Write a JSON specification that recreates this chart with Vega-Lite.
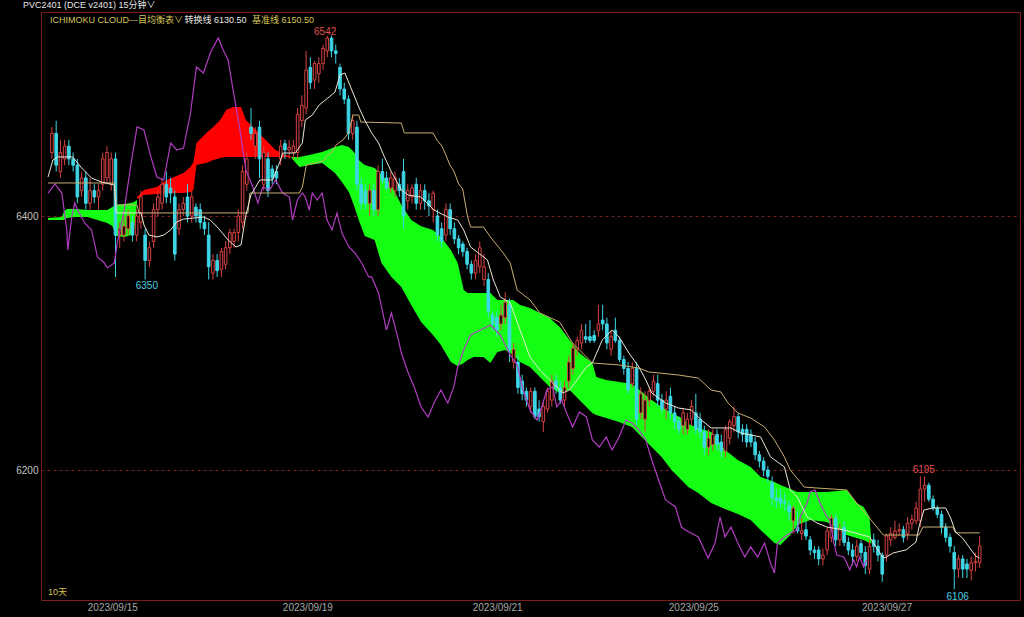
{
  "$schema": "https://vega.github.io/schema/vega-lite/v6.json",
  "width": 979,
  "height": 588,
  "autosize": {"type": "none"},
  "padding": {"left": 41, "top": 12, "right": 4, "bottom": 17},
  "background": "#000000",
  "view": {"stroke": "#7c1c1c", "strokeWidth": 1, "fill": "#000000"},
  "title": {"text": "PVC2401 (DCE v2401)  15分钟∨", "anchor": "start", "frame": "group", "dx": -18, "offset": 2, "color": "#e6e6e6", "fontSize": 9, "fontWeight": "normal", "font": "Liberation Sans, Noto Sans CJK SC, sans-serif"},
  "datasets": {
    "candles": [
      {"i":0,"o":6450,"h":6470,"l":6445,"c":6465},{"i":1,"o":6465,"h":6475,"l":6435,"c":6440},{"i":2,"o":6435,"h":6460,"l":6430,"c":6450},{"i":3,"o":6445,"h":6460,"l":6440,"c":6455},{"i":4,"o":6455,"h":6460,"l":6440,"c":6445},
      {"i":5,"o":6445,"h":6450,"l":6435,"c":6440},{"i":6,"o":6440,"h":6445,"l":6410,"c":6415},{"i":7,"o":6420,"h":6435,"l":6415,"c":6430},{"i":8,"o":6430,"h":6435,"l":6405,"c":6410},{"i":9,"o":6410,"h":6430,"l":6405,"c":6420},
      {"i":10,"o":6420,"h":6425,"l":6410,"c":6415},{"i":11,"o":6415,"h":6425,"l":6405,"c":6420},{"i":12,"o":6425,"h":6450,"l":6420,"c":6445},{"i":13,"o":6430,"h":6455,"l":6425,"c":6450},{"i":14,"o":6425,"h":6450,"l":6420,"c":6445},
      {"i":15,"o":6445,"h":6450,"l":6352,"c":6385},{"i":16,"o":6385,"h":6395,"l":6375,"c":6390},{"i":17,"o":6385,"h":6400,"l":6380,"c":6392},{"i":18,"o":6390,"h":6405,"l":6385,"c":6400},{"i":19,"o":6395,"h":6400,"l":6380,"c":6385},
      {"i":20,"o":6385,"h":6405,"l":6380,"c":6400},{"i":21,"o":6395,"h":6420,"l":6390,"c":6415},{"i":22,"o":6385,"h":6390,"l":6350,"c":6365},{"i":23,"o":6365,"h":6380,"l":6360,"c":6375},{"i":24,"o":6380,"h":6410,"l":6375,"c":6405},
      {"i":25,"o":6405,"h":6420,"l":6400,"c":6415},{"i":26,"o":6410,"h":6430,"l":6405,"c":6425},{"i":27,"o":6425,"h":6435,"l":6410,"c":6415},{"i":28,"o":6422,"h":6430,"l":6410,"c":6418},{"i":29,"o":6415,"h":6420,"l":6365,"c":6370},
      {"i":30,"o":6390,"h":6410,"l":6385,"c":6405},{"i":31,"o":6405,"h":6415,"l":6400,"c":6410},{"i":32,"o":6415,"h":6425,"l":6395,"c":6400},{"i":33,"o":6400,"h":6420,"l":6395,"c":6415},{"i":34,"o":6407,"h":6410,"l":6395,"c":6400},
      {"i":35,"o":6405,"h":6410,"l":6390,"c":6395},{"i":36,"o":6395,"h":6400,"l":6385,"c":6390},{"i":37,"o":6385,"h":6395,"l":6350,"c":6360},{"i":38,"o":6355,"h":6370,"l":6350,"c":6365},{"i":39,"o":6365,"h":6370,"l":6352,"c":6357},
      {"i":40,"o":6358,"h":6375,"l":6352,"c":6372},{"i":41,"o":6362,"h":6380,"l":6358,"c":6375},{"i":42,"o":6375,"h":6390,"l":6370,"c":6387},{"i":43,"o":6380,"h":6390,"l":6375,"c":6387},{"i":44,"o":6387,"h":6405,"l":6380,"c":6400},
      {"i":45,"o":6395,"h":6440,"l":6390,"c":6435},{"i":46,"o":6425,"h":6450,"l":6420,"c":6445},{"i":47,"o":6470,"h":6485,"l":6460,"c":6465},{"i":48,"o":6455,"h":6470,"l":6445,"c":6465},{"i":49,"o":6470,"h":6475,"l":6430,"c":6445},
      {"i":50,"o":6425,"h":6455,"l":6420,"c":6450},{"i":51,"o":6445,"h":6450,"l":6415,"c":6420},{"i":52,"o":6437,"h":6440,"l":6425,"c":6430},{"i":53,"o":6435,"h":6440,"l":6425,"c":6430},{"i":54,"o":6445,"h":6460,"l":6440,"c":6455},
      {"i":55,"o":6457,"h":6460,"l":6445,"c":6452},{"i":56,"o":6452,"h":6460,"l":6445,"c":6454},{"i":57,"o":6450,"h":6460,"l":6445,"c":6455},{"i":58,"o":6450,"h":6485,"l":6445,"c":6480},{"i":59,"o":6475,"h":6495,"l":6470,"c":6487},
      {"i":60,"o":6485,"h":6530,"l":6480,"c":6515},{"i":61,"o":6517,"h":6525,"l":6500,"c":6505},{"i":62,"o":6507,"h":6522,"l":6500,"c":6520},{"i":63,"o":6512,"h":6525,"l":6505,"c":6520},{"i":64,"o":6520,"h":6535,"l":6515,"c":6532},
      {"i":65,"o":6530,"h":6542,"l":6525,"c":6540},{"i":66,"o":6540,"h":6542,"l":6525,"c":6530},{"i":67,"o":6530,"h":6535,"l":6520,"c":6528},{"i":68,"o":6517,"h":6520,"l":6495,"c":6500},{"i":69,"o":6500,"h":6505,"l":6488,"c":6492},
      {"i":70,"o":6492,"h":6495,"l":6460,"c":6465},{"i":71,"o":6465,"h":6480,"l":6460,"c":6475},{"i":72,"o":6470,"h":6475,"l":6420,"c":6425},{"i":73,"o":6425,"h":6430,"l":6405,"c":6410},{"i":74,"o":6420,"h":6425,"l":6405,"c":6410},
      {"i":75,"o":6410,"h":6425,"l":6400,"c":6420},{"i":76,"o":6420,"h":6425,"l":6400,"c":6405},{"i":77,"o":6405,"h":6440,"l":6400,"c":6435},{"i":78,"o":6435,"h":6445,"l":6425,"c":6428},{"i":79,"o":6430,"h":6435,"l":6420,"c":6422},
      {"i":80,"o":6422,"h":6435,"l":6418,"c":6430},{"i":81,"o":6420,"h":6435,"l":6415,"c":6430},{"i":82,"o":6425,"h":6430,"l":6415,"c":6420},{"i":83,"o":6435,"h":6445,"l":6390,"c":6400},{"i":84,"o":6412,"h":6425,"l":6405,"c":6420},
      {"i":85,"o":6415,"h":6425,"l":6410,"c":6422},{"i":86,"o":6425,"h":6430,"l":6405,"c":6410},{"i":87,"o":6410,"h":6425,"l":6405,"c":6420},{"i":88,"o":6420,"h":6425,"l":6405,"c":6412},{"i":89,"o":6412,"h":6418,"l":6400,"c":6408},
      {"i":90,"o":6405,"h":6420,"l":6395,"c":6418},{"i":91,"o":6400,"h":6405,"l":6380,"c":6385},{"i":92,"o":6390,"h":6395,"l":6375,"c":6380},{"i":93,"o":6385,"h":6410,"l":6380,"c":6405},{"i":94,"o":6405,"h":6410,"l":6385,"c":6390},
      {"i":95,"o":6390,"h":6395,"l":6378,"c":6382},{"i":96,"o":6382,"h":6385,"l":6370,"c":6375},{"i":97,"o":6378,"h":6380,"l":6368,"c":6372},{"i":98,"o":6372,"h":6375,"l":6358,"c":6362},{"i":99,"o":6362,"h":6365,"l":6350,"c":6355},
      {"i":100,"o":6355,"h":6370,"l":6350,"c":6365},{"i":101,"o":6360,"h":6380,"l":6355,"c":6375},{"i":102,"o":6350,"h":6370,"l":6345,"c":6360},{"i":103,"o":6350,"h":6355,"l":6320,"c":6325},{"i":104,"o":6322,"h":6325,"l":6310,"c":6315},
      {"i":105,"o":6320,"h":6325,"l":6305,"c":6310},{"i":106,"o":6315,"h":6330,"l":6310,"c":6322},{"i":107,"o":6320,"h":6340,"l":6315,"c":6332},{"i":108,"o":6330,"h":6335,"l":6285,"c":6295},{"i":109,"o":6285,"h":6300,"l":6280,"c":6295},
      {"i":110,"o":6285,"h":6290,"l":6260,"c":6265},{"i":111,"o":6270,"h":6275,"l":6255,"c":6260},{"i":112,"o":6262,"h":6265,"l":6250,"c":6255},{"i":113,"o":6250,"h":6265,"l":6245,"c":6262},{"i":114,"o":6262,"h":6265,"l":6240,"c":6242},
      {"i":115,"o":6248,"h":6255,"l":6238,"c":6242},{"i":116,"o":6238,"h":6255,"l":6230,"c":6250},{"i":117,"o":6248,"h":6265,"l":6245,"c":6262},{"i":118,"o":6255,"h":6275,"l":6250,"c":6270},{"i":119,"o":6270,"h":6275,"l":6260,"c":6265},
      {"i":120,"o":6265,"h":6270,"l":6252,"c":6255},{"i":121,"o":6255,"h":6270,"l":6250,"c":6265},{"i":122,"o":6270,"h":6290,"l":6265,"c":6285},{"i":123,"o":6280,"h":6300,"l":6275,"c":6296},{"i":124,"o":6295,"h":6305,"l":6290,"c":6302},
      {"i":125,"o":6300,"h":6315,"l":6295,"c":6310},{"i":126,"o":6305,"h":6315,"l":6300,"c":6303},{"i":127,"o":6305,"h":6318,"l":6300,"c":6302},{"i":128,"o":6306,"h":6310,"l":6300,"c":6302},{"i":129,"o":6310,"h":6330,"l":6305,"c":6315},
      {"i":130,"o":6318,"h":6330,"l":6310,"c":6315},{"i":131,"o":6315,"h":6320,"l":6295,"c":6300},{"i":132,"o":6295,"h":6310,"l":6290,"c":6305},{"i":133,"o":6310,"h":6320,"l":6300,"c":6302},{"i":134,"o":6302,"h":6305,"l":6285,"c":6287},
      {"i":135,"o":6287,"h":6290,"l":6275,"c":6280},{"i":136,"o":6280,"h":6285,"l":6260,"c":6263},{"i":137,"o":6268,"h":6285,"l":6265,"c":6280},{"i":138,"o":6280,"h":6285,"l":6235,"c":6240},{"i":139,"o":6245,"h":6265,"l":6240,"c":6260},
      {"i":140,"o":6240,"h":6262,"l":6230,"c":6255},{"i":141,"o":6255,"h":6265,"l":6250,"c":6262},{"i":142,"o":6262,"h":6275,"l":6258,"c":6270},{"i":143,"o":6268,"h":6275,"l":6250,"c":6255},{"i":144,"o":6255,"h":6260,"l":6245,"c":6248},
      {"i":145,"o":6248,"h":6262,"l":6240,"c":6255},{"i":146,"o":6258,"h":6265,"l":6240,"c":6245},{"i":147,"o":6245,"h":6250,"l":6232,"c":6238},{"i":148,"o":6238,"h":6242,"l":6228,"c":6232},{"i":149,"o":6235,"h":6248,"l":6228,"c":6245},
      {"i":150,"o":6232,"h":6245,"l":6228,"c":6240},{"i":151,"o":6240,"h":6255,"l":6235,"c":6250},{"i":152,"o":6245,"h":6260,"l":6228,"c":6232},{"i":153,"o":6240,"h":6245,"l":6225,"c":6230},{"i":154,"o":6230,"h":6235,"l":6212,"c":6218},
      {"i":155,"o":6218,"h":6232,"l":6212,"c":6225},{"i":156,"o":6220,"h":6232,"l":6215,"c":6228},{"i":157,"o":6228,"h":6232,"l":6215,"c":6220},{"i":158,"o":6222,"h":6228,"l":6210,"c":6215},{"i":159,"o":6215,"h":6235,"l":6210,"c":6232},
      {"i":160,"o":6225,"h":6240,"l":6220,"c":6238},{"i":161,"o":6235,"h":6250,"l":6230,"c":6242},{"i":162,"o":6242,"h":6245,"l":6225,"c":6230},{"i":163,"o":6232,"h":6236,"l":6222,"c":6228},{"i":164,"o":6232,"h":6236,"l":6218,"c":6222},
      {"i":165,"o":6228,"h":6232,"l":6218,"c":6222},{"i":166,"o":6222,"h":6226,"l":6208,"c":6212},{"i":167,"o":6212,"h":6215,"l":6202,"c":6207},{"i":168,"o":6207,"h":6210,"l":6195,"c":6200},{"i":169,"o":6200,"h":6203,"l":6190,"c":6195},
      {"i":170,"o":6190,"h":6195,"l":6172,"c":6178},{"i":171,"o":6178,"h":6185,"l":6170,"c":6176},{"i":172,"o":6178,"h":6185,"l":6170,"c":6174},{"i":173,"o":6175,"h":6182,"l":6168,"c":6174},{"i":174,"o":6172,"h":6176,"l":6160,"c":6167},
      {"i":175,"o":6160,"h":6172,"l":6150,"c":6170},{"i":176,"o":6155,"h":6168,"l":6150,"c":6152},{"i":177,"o":6150,"h":6162,"l":6145,"c":6152},{"i":178,"o":6153,"h":6160,"l":6145,"c":6148},{"i":179,"o":6145,"h":6148,"l":6133,"c":6137},
      {"i":180,"o":6137,"h":6140,"l":6130,"c":6135},{"i":181,"o":6137,"h":6140,"l":6125,"c":6130},{"i":182,"o":6130,"h":6138,"l":6125,"c":6133},{"i":183,"o":6137,"h":6155,"l":6133,"c":6152},{"i":184,"o":6147,"h":6165,"l":6143,"c":6162},
      {"i":185,"o":6162,"h":6165,"l":6140,"c":6145},{"i":186,"o":6145,"h":6158,"l":6140,"c":6153},{"i":187,"o":6155,"h":6160,"l":6140,"c":6143},{"i":188,"o":6143,"h":6147,"l":6133,"c":6137},{"i":189,"o":6137,"h":6142,"l":6125,"c":6132},
      {"i":190,"o":6132,"h":6145,"l":6128,"c":6140},{"i":191,"o":6142,"h":6145,"l":6130,"c":6135},{"i":192,"o":6135,"h":6140,"l":6118,"c":6125},{"i":193,"o":6122,"h":6145,"l":6118,"c":6140},{"i":194,"o":6145,"h":6150,"l":6135,"c":6140},
      {"i":195,"o":6140,"h":6145,"l":6128,"c":6133},{"i":196,"o":6133,"h":6135,"l":6112,"c":6118},{"i":197,"o":6133,"h":6150,"l":6128,"c":6148},{"i":198,"o":6145,"h":6155,"l":6140,"c":6150},{"i":199,"o":6147,"h":6160,"l":6145,"c":6152},
      {"i":200,"o":6152,"h":6158,"l":6148,"c":6153},{"i":201,"o":6153,"h":6156,"l":6143,"c":6147},{"i":202,"o":6150,"h":6163,"l":6145,"c":6158},{"i":203,"o":6158,"h":6165,"l":6153,"c":6161},{"i":204,"o":6160,"h":6175,"l":6157,"c":6170},
      {"i":205,"o":6160,"h":6195,"l":6155,"c":6185},{"i":206,"o":6185,"h":6195,"l":6175,"c":6188},{"i":207,"o":6188,"h":6190,"l":6175,"c":6177},{"i":208,"o":6177,"h":6180,"l":6168,"c":6170},{"i":209,"o":6170,"h":6172,"l":6162,"c":6165},
      {"i":210,"o":6165,"h":6168,"l":6150,"c":6155},{"i":211,"o":6155,"h":6158,"l":6143,"c":6147},{"i":212,"o":6147,"h":6150,"l":6135,"c":6140},{"i":213,"o":6135,"h":6140,"l":6106,"c":6122},{"i":214,"o":6122,"h":6133,"l":6115,"c":6130},
      {"i":215,"o":6130,"h":6133,"l":6115,"c":6122},{"i":216,"o":6126,"h":6130,"l":6115,"c":6122},{"i":217,"o":6121,"h":6132,"l":6113,"c":6127},{"i":218,"o":6127,"h":6135,"l":6120,"c":6128},{"i":219,"o":6127,"h":6148,"l":6123,"c":6140}
    ],
    "cloud": [
      {"seg":"g1","kind":"bull","i":-0.93,"top":6398.4,"bot":6396.9},{"seg":"g1","kind":"bull","i":2.34,"top":6399.2,"bot":6396.9},{"seg":"g1","kind":"bull","i":2.8,"top":6403.1,"bot":6396.9},{"seg":"g1","kind":"bull","i":3.5,"top":6405.5,"bot":6398.4},
      {"seg":"g1","kind":"bull","i":5.37,"top":6405.5,"bot":6399.2},{"seg":"g1","kind":"bull","i":8.41,"top":6404.7,"bot":6399.2},{"seg":"g1","kind":"bull","i":10.75,"top":6404.7,"bot":6396.9},{"seg":"g1","kind":"bull","i":13.08,"top":6404.7,"bot":6394.5},
      {"seg":"g1","kind":"bull","i":14.25,"top":6407.1,"bot":6392.1},{"seg":"g1","kind":"bull","i":15.19,"top":6408.7,"bot":6384.3},{"seg":"g1","kind":"bull","i":17.06,"top":6409.4,"bot":6383.5},{"seg":"g1","kind":"bull","i":18.69,"top":6410.2,"bot":6385.0},
      {"seg":"g1","kind":"bull","i":19.39,"top":6411.0,"bot":6389.0},{"seg":"g1","kind":"bull","i":20.09,"top":6412.6,"bot":6411.0},
      {"seg":"r1","kind":"bear","i":20.09,"top":6415.0,"bot":6413.4},{"seg":"r1","kind":"bear","i":21.73,"top":6420.5,"bot":6416.5},{"seg":"r1","kind":"bear","i":24.77,"top":6422.8,"bot":6417.3},{"seg":"r1","kind":"bear","i":27.1,"top":6428.3,"bot":6418.1},
      {"seg":"r1","kind":"bear","i":31.07,"top":6433.9,"bot":6418.1},{"seg":"r1","kind":"bear","i":32.71,"top":6438.6,"bot":6418.9},{"seg":"r1","kind":"bear","i":33.41,"top":6442.5,"bot":6420.5},{"seg":"r1","kind":"bear","i":34.11,"top":6457.5,"bot":6440.2},
      {"seg":"r1","kind":"bear","i":36.45,"top":6465.4,"bot":6441.7},{"seg":"r1","kind":"bear","i":38.08,"top":6470.1,"bot":6444.1},{"seg":"r1","kind":"bear","i":39.72,"top":6475.6,"bot":6445.7},{"seg":"r1","kind":"bear","i":41.12,"top":6483.5,"bot":6446.5},
      {"seg":"r1","kind":"bear","i":42.76,"top":6485.8,"bot":6446.5},{"seg":"r1","kind":"bear","i":44.63,"top":6485.8,"bot":6446.5},{"seg":"r1","kind":"bear","i":45.79,"top":6475.6,"bot":6446.5},{"seg":"r1","kind":"bear","i":48.13,"top":6467.7,"bot":6446.5},
      {"seg":"r1","kind":"bear","i":50.47,"top":6459.8,"bot":6446.5},{"seg":"r1","kind":"bear","i":52.8,"top":6452.0,"bot":6446.5},{"seg":"r1","kind":"bear","i":55.14,"top":6448.0,"bot":6446.5},{"seg":"r1","kind":"bear","i":56.54,"top":6446.8,"bot":6446.0},
      {"seg":"g2","kind":"bull","i":56.54,"top":6446.5,"bot":6445.7},{"seg":"g2","kind":"bull","i":58.41,"top":6446.5,"bot":6438.6},{"seg":"g2","kind":"bull","i":60.75,"top":6448.0,"bot":6440.2},{"seg":"g2","kind":"bull","i":63.79,"top":6450.4,"bot":6441.7},
      {"seg":"g2","kind":"bull","i":66.82,"top":6454.3,"bot":6433.9},{"seg":"g2","kind":"bull","i":68.46,"top":6455.9,"bot":6426.8},{"seg":"g2","kind":"bull","i":70.09,"top":6454.3,"bot":6418.9},{"seg":"g2","kind":"bull","i":71.26,"top":6450.4,"bot":6408.7},
      {"seg":"g2","kind":"bull","i":72.43,"top":6444.1,"bot":6396.8},{"seg":"g2","kind":"bull","i":73.83,"top":6440.2,"bot":6384.3},{"seg":"g2","kind":"bull","i":76.17,"top":6437.8,"bot":6381.1},{"seg":"g2","kind":"bull","i":77.8,"top":6432.3,"bot":6363.0},
      {"seg":"g2","kind":"bull","i":80.14,"top":6424.4,"bot":6352.0},{"seg":"g2","kind":"bull","i":82.48,"top":6408.7,"bot":6344.1},{"seg":"g2","kind":"bull","i":84.81,"top":6396.8,"bot":6329.9},{"seg":"g2","kind":"bull","i":87.15,"top":6392.0,"bot":6316.5},
      {"seg":"g2","kind":"bull","i":89.95,"top":6389.0,"bot":6306.3},{"seg":"g2","kind":"bull","i":91.82,"top":6383.5,"bot":6298.5},{"seg":"g2","kind":"bull","i":94.16,"top":6373.2,"bot":6285.0},{"seg":"g2","kind":"bull","i":95.79,"top":6363.0,"bot":6281.9},
      {"seg":"g2","kind":"bull","i":97.2,"top":6341.7,"bot":6284.3},{"seg":"g2","kind":"bull","i":98.13,"top":6339.4,"bot":6286.6},{"seg":"g2","kind":"bull","i":99.53,"top":6339.4,"bot":6289.0},{"seg":"g2","kind":"bull","i":101.87,"top":6339.4,"bot":6289.0},
      {"seg":"g2","kind":"bull","i":103.5,"top":6339.4,"bot":6284.3},{"seg":"g2","kind":"bull","i":105.14,"top":6333.9,"bot":6292.9},{"seg":"g2","kind":"bull","i":107.01,"top":6333.9,"bot":6294.5},{"seg":"g2","kind":"bull","i":108.88,"top":6333.9,"bot":6290.6},
      {"seg":"g2","kind":"bull","i":110.51,"top":6329.9,"bot":6285.0},{"seg":"g2","kind":"bull","i":112.85,"top":6327.6,"bot":6281.1},{"seg":"g2","kind":"bull","i":115.19,"top":6323.6,"bot":6273.2},{"seg":"g2","kind":"bull","i":117.52,"top":6319.7,"bot":6265.4},
      {"seg":"g2","kind":"bull","i":119.86,"top":6312.6,"bot":6260.6},{"seg":"g2","kind":"bull","i":122.2,"top":6302.4,"bot":6263.0},{"seg":"g2","kind":"bull","i":124.53,"top":6292.1,"bot":6255.1},{"seg":"g2","kind":"bull","i":127.57,"top":6284.3,"bot":6244.9},
      {"seg":"g2","kind":"bull","i":128.5,"top":6273.2,"bot":6243.3},{"seg":"g2","kind":"bull","i":130.84,"top":6270.9,"bot":6240.9},{"seg":"g2","kind":"bull","i":133.88,"top":6269.3,"bot":6237.8},{"seg":"g2","kind":"bull","i":136.92,"top":6267.7,"bot":6233.9},
      {"seg":"g2","kind":"bull","i":139.25,"top":6261.4,"bot":6226.0},{"seg":"g2","kind":"bull","i":141.59,"top":6255.1,"bot":6218.1},{"seg":"g2","kind":"bull","i":143.93,"top":6249.6,"bot":6210.3},{"seg":"g2","kind":"bull","i":146.26,"top":6244.9,"bot":6200.0},
      {"seg":"g2","kind":"bull","i":148.6,"top":6240.9,"bot":6192.1},{"seg":"g2","kind":"bull","i":150.23,"top":6236.2,"bot":6186.6},{"seg":"g2","kind":"bull","i":152.57,"top":6233.1,"bot":6181.9},{"seg":"g2","kind":"bull","i":155.61,"top":6229.9,"bot":6174.0},
      {"seg":"g2","kind":"bull","i":158.88,"top":6215.8,"bot":6169.3},{"seg":"g2","kind":"bull","i":161.92,"top":6207.9,"bot":6165.3},{"seg":"g2","kind":"bull","i":164.95,"top":6202.4,"bot":6160.6},{"seg":"g2","kind":"bull","i":167.29,"top":6194.5,"bot":6152.8},
      {"seg":"g2","kind":"bull","i":170.56,"top":6190.6,"bot":6142.5},{"seg":"g2","kind":"bull","i":171.96,"top":6188.2,"bot":6140.9},{"seg":"g2","kind":"bull","i":174.3,"top":6185.0,"bot":6148.8},{"seg":"g2","kind":"bull","i":175.93,"top":6182.7,"bot":6156.7},
      {"seg":"g2","kind":"bull","i":178.97,"top":6182.7,"bot":6160.6},{"seg":"g2","kind":"bull","i":182.94,"top":6182.7,"bot":6159.1},{"seg":"g2","kind":"bull","i":187.62,"top":6184.3,"bot":6148.8},{"seg":"g2","kind":"bull","i":189.95,"top":6174.0,"bot":6146.5},
      {"seg":"g2","kind":"bull","i":191.59,"top":6170.9,"bot":6144.9},{"seg":"g2","kind":"bull","i":192.99,"top":6163.0,"bot":6142.5},{"seg":"g2","kind":"bull","i":193.46,"top":6142.5,"bot":6142.1}
    ],
    "tenkan": [
      {"i":-0.93,"v":6430.7},{"i":0.23,"v":6444.1},{"i":1.4,"v":6446.5},{"i":4.91,"v":6446.5},{"i":7.01,"v":6437.8},{"i":9.35,"v":6429.9},{"i":11.68,"v":6426.8},{"i":14.72,"v":6424.4},
      {"i":15.19,"v":6402.4},{"i":21.03,"v":6402.4},{"i":21.73,"v":6392.9},{"i":22.9,"v":6385.0},{"i":24.77,"v":6383.5},{"i":26.4,"v":6385.0},{"i":28.04,"v":6389.0},{"i":29.44,"v":6395.3},
      {"i":31.07,"v":6397.6},{"i":35.75,"v":6399.2},{"i":37.38,"v":6396.8},{"i":39.25,"v":6390.5},{"i":41.59,"v":6381.1},{"i":43.46,"v":6375.6},{"i":44.63,"v":6377.2},{"i":45.79,"v":6400.8},
      {"i":46.96,"v":6416.5},{"i":49.07,"v":6428.4},{"i":52.1,"v":6428.4},{"i":53.97,"v":6444.1},{"i":54.44,"v":6449.6},{"i":57.48,"v":6449.6},{"i":59.11,"v":6457.5},{"i":59.81,"v":6475.6},
      {"i":61.45,"v":6479.5},{"i":63.08,"v":6487.4},{"i":65.42,"v":6493.7},{"i":66.82,"v":6497.6},{"i":67.99,"v":6511.0},{"i":69.16,"v":6512.6},{"i":70.79,"v":6499.2},{"i":72.43,"v":6485.8},
      {"i":73.83,"v":6475.6},{"i":75.47,"v":6465.4},{"i":77.1,"v":6457.5},{"i":78.5,"v":6446.5},{"i":80.14,"v":6434.7},{"i":82.48,"v":6420.5},{"i":84.11,"v":6416.5},{"i":87.15,"v":6414.9},
      {"i":90.19,"v":6404.7},{"i":93.46,"v":6399.2},{"i":95.79,"v":6396.8},{"i":97.2,"v":6389.0},{"i":98.83,"v":6375.6},{"i":102.8,"v":6365.4},{"i":104.21,"v":6349.6},{"i":105.84,"v":6336.2},
      {"i":108.18,"v":6331.5},{"i":110.51,"v":6310.2},{"i":112.85,"v":6289.0},{"i":115.19,"v":6278.7},{"i":118.22,"v":6268.5},{"i":120.56,"v":6260.6},{"i":122.2,"v":6263.0},{"i":126.17,"v":6281.1},
      {"i":127.57,"v":6284.3},{"i":129.91,"v":6302.4},{"i":132.24,"v":6310.2},{"i":133.88,"v":6304.7},{"i":136.21,"v":6292.1},{"i":138.55,"v":6281.1},{"i":140.19,"v":6270.9},{"i":141.59,"v":6260.6},
      {"i":144.86,"v":6252.8},{"i":147.9,"v":6248.8},{"i":150.93,"v":6247.3},{"i":153.27,"v":6239.4},{"i":155.61,"v":6233.1},{"i":160.28,"v":6233.1},{"i":162.62,"v":6229.1},{"i":164.95,"v":6227.6},
      {"i":167.29,"v":6226.0},{"i":169.63,"v":6210.3},{"i":172.9,"v":6202.4},{"i":174.3,"v":6184.3},{"i":175.93,"v":6178.8},{"i":178.27,"v":6163.0},{"i":180.61,"v":6158.3},{"i":182.94,"v":6155.1},
      {"i":186.92,"v":6152.8},{"i":192.99,"v":6147.3},{"i":193.93,"v":6142.5},{"i":196.26,"v":6130.7},{"i":196.96,"v":6131.5},{"i":198.6,"v":6134.7},{"i":201.64,"v":6137.1},{"i":203.97,"v":6143.3},
      {"i":204.67,"v":6155.1},{"i":205.84,"v":6168.5},{"i":207.94,"v":6170.1},{"i":210.98,"v":6170.1},{"i":212.15,"v":6162.2},{"i":213.32,"v":6151.2},{"i":214.95,"v":6146.5},{"i":217.99,"v":6132.5},{"i":219,"v":6130.5}
    ],
    "kijun": [
      {"i":-0.93,"v":6426.0},{"i":14.72,"v":6426.0},{"i":15.19,"v":6408.7},{"i":20.09,"v":6408.7},{"i":20.56,"v":6402.4},{"i":46.26,"v":6402.4},{"i":46.73,"v":6418.1},{"i":58.41,"v":6418.1},
      {"i":59.11,"v":6422.8},{"i":60.05,"v":6440.2},{"i":64.02,"v":6443.3},{"i":64.95,"v":6447.2},{"i":66.12,"v":6450.4},{"i":67.06,"v":6455.9},{"i":68.93,"v":6460.6},{"i":70.09,"v":6466.1},
      {"i":71.03,"v":6479.5},{"i":72.43,"v":6479.5},{"i":72.9,"v":6474.0},{"i":82.48,"v":6473.2},{"i":83.18,"v":6465.4},{"i":89.95,"v":6465.4},{"i":90.89,"v":6459.8},{"i":92.06,"v":6455.1},
      {"i":92.99,"v":6448.0},{"i":93.93,"v":6440.2},{"i":94.86,"v":6435.4},{"i":96.03,"v":6425.2},{"i":96.96,"v":6421.3},{"i":98.13,"v":6399.2},{"i":98.83,"v":6391.3},{"i":101.87,"v":6391.3},
      {"i":103.5,"v":6383.5},{"i":106.54,"v":6370.9},{"i":108.18,"v":6363.0},{"i":109.81,"v":6341.7},{"i":112.85,"v":6333.9},{"i":115.19,"v":6323.6},{"i":119.86,"v":6316.5},{"i":122.9,"v":6300.0},
      {"i":127.57,"v":6284.3},{"i":133.88,"v":6282.7},{"i":138.55,"v":6280.3},{"i":140.89,"v":6277.2},{"i":147.9,"v":6274.8},{"i":152.57,"v":6272.4},{"i":155.61,"v":6263.0},{"i":157.94,"v":6261.4},
      {"i":159.58,"v":6252.8},{"i":161.92,"v":6244.9},{"i":164.95,"v":6240.9},{"i":168.22,"v":6233.9},{"i":170.56,"v":6223.6},{"i":172.9,"v":6210.3},{"i":174.3,"v":6200.0},{"i":177.57,"v":6186.6},
      {"i":180.61,"v":6185.8},{"i":187.62,"v":6184.3},{"i":189.95,"v":6174.0},{"i":193.93,"v":6158.3},{"i":196.26,"v":6148.8},{"i":204.67,"v":6148.8},{"i":205.61,"v":6155.1},{"i":212.62,"v":6155.1},
      {"i":213.32,"v":6150.5},{"i":219,"v":6150.5}
    ],
    "chikou": [
      {"i":-0.93,"v":6418.1},{"i":0.7,"v":6425.2},{"i":2.34,"v":6418.1},{"i":3.5,"v":6389.0},{"i":3.74,"v":6373.2},{"i":4.67,"v":6399.2},{"i":5.37,"v":6410.2},{"i":6.07,"v":6404.7},
      {"i":7.71,"v":6394.5},{"i":9.35,"v":6389.0},{"i":10.75,"v":6367.7},{"i":12.38,"v":6363.0},{"i":13.08,"v":6359.1},{"i":14.72,"v":6363.0},{"i":15.42,"v":6378.7},{"i":17.06,"v":6404.7},
      {"i":18.69,"v":6441.7},{"i":20.09,"v":6470.1},{"i":21.73,"v":6467.7},{"i":23.36,"v":6446.5},{"i":24.77,"v":6430.7},{"i":26.4,"v":6428.4},{"i":28.04,"v":6457.5},{"i":29.44,"v":6452.0},
      {"i":31.07,"v":6453.5},{"i":32.71,"v":6481.1},{"i":34.11,"v":6517.3},{"i":35.75,"v":6512.6},{"i":37.38,"v":6528.4},{"i":39.25,"v":6540.2},{"i":40.42,"v":6530.7},{"i":41.59,"v":6522.8},
      {"i":42.76,"v":6499.2},{"i":43.46,"v":6485.8},{"i":44.39,"v":6467.7},{"i":44.75,"v":6459.0},{"i":45.79,"v":6436.2},{"i":47.43,"v":6422.8},{"i":48.6,"v":6410.2},{"i":49.77,"v":6422.8},
      {"i":51.4,"v":6420.5},{"i":52.8,"v":6428.4},{"i":54.44,"v":6418.1},{"i":56.07,"v":6414.9},{"i":56.78,"v":6396.8},{"i":57.94,"v":6412.6},{"i":59.11,"v":6418.1},{"i":59.81,"v":6414.9},
      {"i":60.75,"v":6404.7},{"i":61.45,"v":6418.1},{"i":62.62,"v":6412.6},{"i":63.79,"v":6418.1},{"i":64.95,"v":6396.8},{"i":66.12,"v":6389.0},{"i":67.29,"v":6402.4},{"i":68.46,"v":6386.6},
      {"i":70.09,"v":6375.6},{"i":71.5,"v":6370.9},{"i":73.13,"v":6363.0},{"i":74.77,"v":6352.0},{"i":75.47,"v":6352.0},{"i":77.1,"v":6339.4},{"i":78.97,"v":6310.2},{"i":80.14,"v":6323.6},
      {"i":81.78,"v":6302.4},{"i":82.48,"v":6292.1},{"i":84.11,"v":6276.4},{"i":85.51,"v":6265.4},{"i":87.15,"v":6249.6},{"i":88.79,"v":6241.7},{"i":90.19,"v":6252.8},{"i":91.82,"v":6263.0},
      {"i":93.46,"v":6252.8},{"i":94.86,"v":6265.4},{"i":95.79,"v":6281.1},{"i":97.2,"v":6294.5},{"i":98.83,"v":6306.3},{"i":101.17,"v":6310.2},{"i":103.5,"v":6314.2},{"i":105.84,"v":6306.3},
      {"i":108.18,"v":6290.6},{"i":109.81,"v":6282.7},{"i":111.21,"v":6263.0},{"i":112.85,"v":6247.3},{"i":114.49,"v":6239.4},{"i":115.19,"v":6244.9},{"i":116.82,"v":6263.0},{"i":118.22,"v":6265.4},
      {"i":119.16,"v":6249.6},{"i":120.33,"v":6255.1},{"i":121.5,"v":6244.9},{"i":122.9,"v":6233.9},{"i":124.53,"v":6245.7},{"i":126.17,"v":6241.8},{"i":127.57,"v":6223.7},{"i":129.21,"v":6218.1},
      {"i":130.84,"v":6226.0},{"i":132.24,"v":6215.8},{"i":133.88,"v":6226.0},{"i":135.51,"v":6239.4},{"i":136.92,"v":6237.0},{"i":138.55,"v":6231.6},{"i":140.19,"v":6223.7},{"i":141.59,"v":6207.9},
      {"i":143.22,"v":6192.1},{"i":144.86,"v":6176.4},{"i":147.2,"v":6170.9},{"i":148.6,"v":6155.1},{"i":149.53,"v":6152.8},{"i":152.57,"v":6147.3},{"i":154.91,"v":6130.7},{"i":156.54,"v":6142.5},
      {"i":157.71,"v":6163.0},{"i":158.88,"v":6147.3},{"i":160.28,"v":6155.1},{"i":161.92,"v":6142.5},{"i":163.55,"v":6131.5},{"i":164.95,"v":6139.4},{"i":166.59,"v":6131.5},{"i":168.22,"v":6142.5},
      {"i":169.63,"v":6126.8},{"i":170.56,"v":6118.9},{"i":171.26,"v":6142.5},{"i":172.9,"v":6147.3},{"i":174.3,"v":6150.4},{"i":175.93,"v":6152.8},{"i":176.64,"v":6163.0},{"i":178.27,"v":6174.0},
      {"i":178.97,"v":6182.7},{"i":180.14,"v":6184.3},{"i":181.31,"v":6174.0},{"i":182.94,"v":6163.0},{"i":183.64,"v":6160.6},{"i":184.58,"v":6142.5},{"i":185.28,"v":6133.0},{"i":186.92,"v":6131.5},
      {"i":187.62,"v":6126.8},{"i":188.32,"v":6121.3},{"i":189.25,"v":6129.2},{"i":189.95,"v":6123.6},{"i":190.65,"v":6131.5},{"i":191.59,"v":6123.6},{"i":192.29,"v":6129.2}
    ],
    "legendText": [
      {"t":"ICHIMOKU CLOUD—目均衡表∨","i":-0.47,"p":6554.3,"kind":"name"},
      {"t":"转换线 6130.50","i":31.3,"p":6554.3,"kind":"tenkan"},
      {"t":"基准线 6150.50","i":47.2,"p":6554.3,"kind":"kijun"},
      {"t":"10天","i":-0.93,"p":6104,"kind":"name"}
    ],
    "tags": [
      {"t":"6542","i":64.5,"p":6544.9,"kind":"high"},
      {"t":"6350","i":22.4,"p":6344.9,"kind":"low"},
      {"t":"6195","i":205.8,"p":6200,"kind":"high"},
      {"t":"6106","i":213.8,"p":6100,"kind":"low"}
    ]
  },
  "encoding": {
    "x": {
      "field": "i", "type": "quantitative", "title": null,
      "scale": {"domain": [-1.402, 227.34], "nice": false, "zero": false},
      "axis": {
        "values": [14.25, 60.3, 105.1, 151.4, 197],
        "labelExpr": "datum.value < 30 ? '2023/09/15' : datum.value < 80 ? '2023/09/19' : datum.value < 130 ? '2023/09/21' : datum.value < 175 ? '2023/09/25' : '2023/09/27'",
        "domain": false, "ticks": false, "grid": false,
        "labelColor": "#a8a8a8", "labelFontSize": 10, "labelFont": "Liberation Sans, sans-serif",
        "labelPadding": 2, "labelOverlap": false, "labelFlush": false
      }
    }
  },
  "layer": [
    {
      "data": {"name": "cloud"},
      "mark": {"type": "area", "interpolate": "linear", "opacity": 1},
      "encoding": {
        "y": {
          "field": "top", "type": "quantitative", "title": null,
          "scale": {"domain": [6097.64, 6560.63], "nice": false, "zero": false},
          "axis": {
            "values": [6200, 6400], "format": "d", "domain": false, "ticks": false, "grid": true,
            "gridColor": "#7a2222", "gridDash": [3, 3], "gridWidth": 1,
            "labelColor": "#c4c4c4", "labelFontSize": 10, "labelFont": "Liberation Sans, sans-serif", "labelPadding": 3
          }
        },
        "y2": {"field": "bot"},
        "detail": {"field": "seg"},
        "color": {"condition": {"test": "datum.kind == 'bear'", "value": "#ff0000"}, "value": "#14ff14"}
      }
    },
    {
      "data": {"name": "candles"},
      "mark": {"type": "rule", "strokeWidth": 1},
      "encoding": {
        "y": {"field": "l", "type": "quantitative", "title": null, "scale": {"domain": [6097.64, 6560.63], "nice": false, "zero": false}},
        "y2": {"field": "h"},
        "color": {"condition": {"test": "datum.c > datum.o", "value": "#d84242"}, "value": "#3ed6e6"}
      }
    },
    {
      "data": {"name": "candles"},
      "mark": {"type": "bar", "size": 2.6, "strokeWidth": 1},
      "encoding": {
        "y": {"field": "o", "type": "quantitative", "title": null, "scale": {"domain": [6097.64, 6560.63], "nice": false, "zero": false}},
        "y2": {"field": "c"},
        "fill": {"condition": {"test": "datum.c > datum.o", "value": "#000000"}, "value": "#3ed6e6"},
        "stroke": {"condition": {"test": "datum.c > datum.o", "value": "#d84242"}, "value": "#3ed6e6"}
      }
    },
    {
      "data": {"name": "chikou"},
      "mark": {"type": "line", "color": "#b03cc0", "strokeWidth": 1.2, "interpolate": "linear"},
      "encoding": {
        "y": {"field": "v", "type": "quantitative", "title": null, "scale": {"domain": [6097.64, 6560.63], "nice": false, "zero": false}}
      }
    },
    {
      "data": {"name": "kijun"},
      "mark": {"type": "line", "color": "#c8ad72", "strokeWidth": 1, "interpolate": "linear"},
      "encoding": {
        "y": {"field": "v", "type": "quantitative", "title": null, "scale": {"domain": [6097.64, 6560.63], "nice": false, "zero": false}}
      }
    },
    {
      "data": {"name": "tenkan"},
      "mark": {"type": "line", "color": "#ebe6d6", "strokeWidth": 1, "interpolate": "linear"},
      "encoding": {
        "y": {"field": "v", "type": "quantitative", "title": null, "scale": {"domain": [6097.64, 6560.63], "nice": false, "zero": false}}
      }
    },
    {
      "data": {"name": "legendText"},
      "mark": {"type": "text", "align": "left", "baseline": "middle", "fontSize": 9, "font": "Liberation Sans, Noto Sans CJK SC, sans-serif"},
      "encoding": {
        "y": {"field": "p", "type": "quantitative", "title": null, "scale": {"domain": [6097.64, 6560.63], "nice": false, "zero": false}},
        "text": {"field": "t"},
        "color": {"condition": {"test": "datum.kind == 'tenkan'", "value": "#e6e6e0"}, "value": "#d6c456"}
      }
    },
    {
      "data": {"name": "tags"},
      "mark": {"type": "text", "align": "center", "baseline": "middle", "fontSize": 10, "font": "Liberation Sans, sans-serif"},
      "encoding": {
        "y": {"field": "p", "type": "quantitative", "title": null, "scale": {"domain": [6097.64, 6560.63], "nice": false, "zero": false}},
        "text": {"field": "t"},
        "color": {"condition": {"test": "datum.kind == 'high'", "value": "#e05050"}, "value": "#4ccfe0"}
      }
    }
  ]
}
